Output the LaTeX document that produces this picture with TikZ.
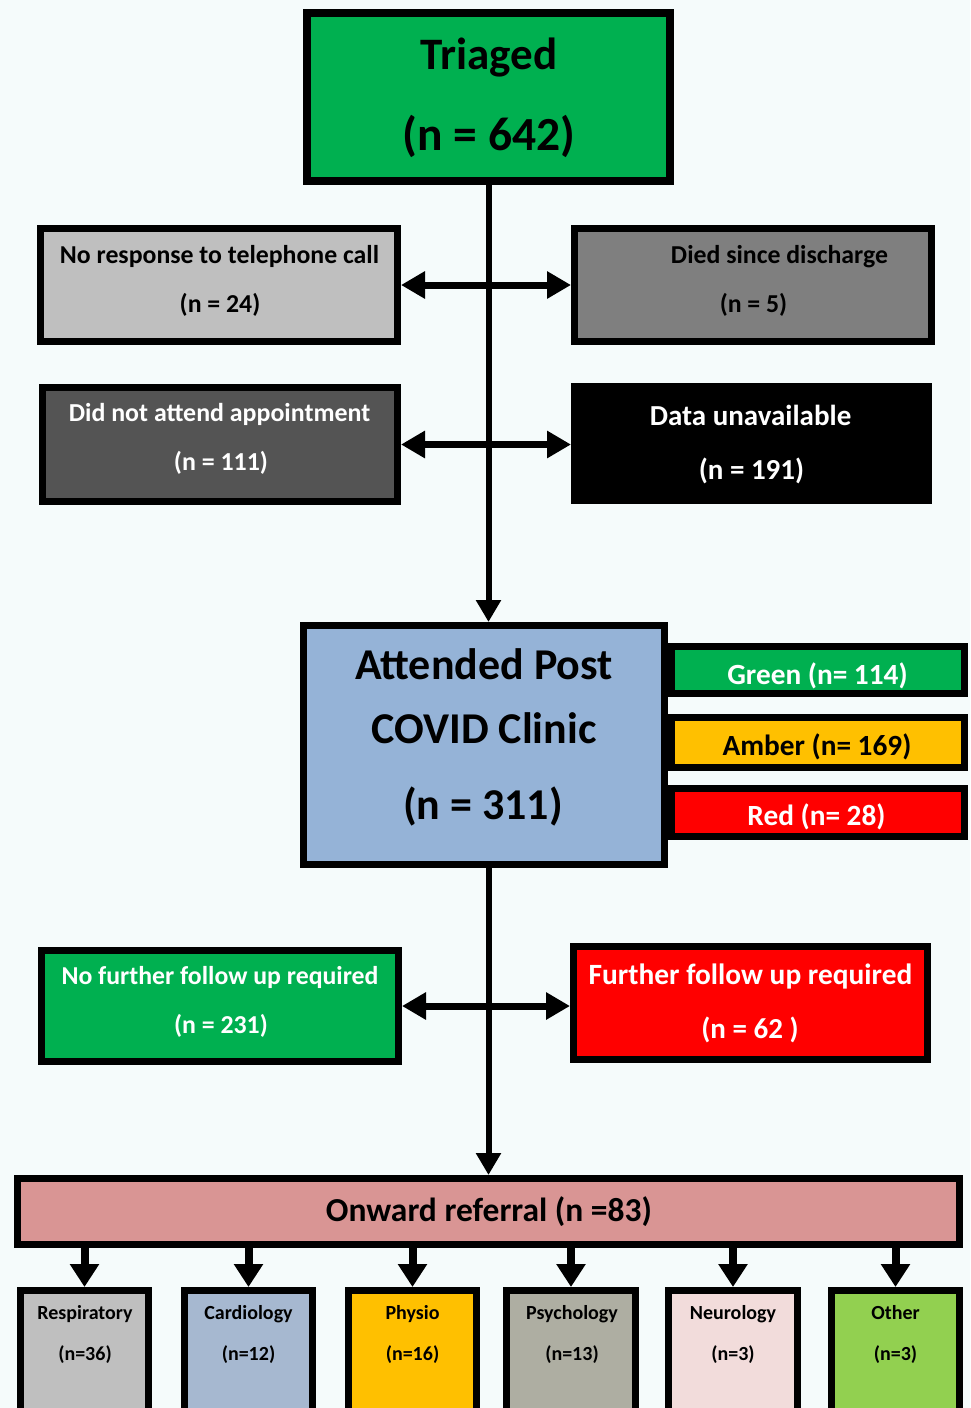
\documentclass[tikz,border=0pt]{standalone}
\usepackage{fontspec}
\setmainfont{Carlito}
\usetikzlibrary{arrows.meta}
\definecolor{bgc}{RGB}{245,251,251}
\definecolor{cgreen}{HTML}{00B050}
\definecolor{camber}{HTML}{FFC000}
\definecolor{cred}{HTML}{FF0000}
\definecolor{cltgrey}{HTML}{BFBFBF}
\definecolor{cmidgrey}{HTML}{7F7F7F}
\definecolor{cdkgrey}{HTML}{545454}
\definecolor{cblue}{HTML}{95B3D7}
\definecolor{crose}{HTML}{D99594}
\definecolor{ccardio}{HTML}{A6B8D0}
\definecolor{cpsych}{HTML}{AEAEA2}
\definecolor{cneuro}{HTML}{F2DCDB}
\definecolor{cother}{HTML}{92D050}
\newcommand{\fsz}[1]{\fontsize{#1}{#1}\selectfont}
\tikzset{
  box/.style={draw=black, line width=7pt, inner sep=0pt, outer sep=0pt},
  lbl/.style={anchor=base, inner sep=0pt, font=\bfseries},
  dbl/.style={line width=7pt, {Triangle[length=24pt,width=26pt]}-{Triangle[length=24pt,width=26pt]}, shorten <=3.5pt, shorten >=3.5pt},
  mainarrow/.style={line width=6pt, -{Triangle[length=22pt,width=24pt]}, shorten >=3.5pt},
  subarrow/.style={line width=8pt, -{Triangle[length=23pt,width=28pt]}, shorten >=3.5pt},
}
\begin{document}
\begin{tikzpicture}[x=1pt, y=-1pt]
\fill[bgc] (0,0) rectangle (970,1408);
\useasboundingbox (0,0) rectangle (970,1408);
\clip (0,0) rectangle (970,1408);

% Triaged
\node[box, line width=8pt, fill=cgreen, minimum width=363pt, minimum height=168pt] (tri) at (488.5,97) {};
\node[lbl, font=\bfseries\fsz{45}] (tri1) at (489,69.5) {Triaged};
\node[lbl, font=\bfseries\fsz{47.5}] (tri2) at (489,150) {(n = 642)};

% Row 1
\node[box, fill=cltgrey, minimum width=357pt, minimum height=113pt] (nor) at (219,285) {};
\node[lbl, font=\bfseries\fsz{25.8}] (nor1) at (219.5,263) {No response to telephone call};
\node[lbl, font=\bfseries\fsz{25.8}] (nor2) at (220,312) {(n = 24)};
\node[box, fill=cmidgrey, minimum width=357pt, minimum height=113pt] (died) at (753,285) {};
\node[lbl, font=\bfseries\fsz{25.8}] (died1) at (779.5,263) {Died since discharge};
\node[lbl, font=\bfseries\fsz{25.8}] (died2) at (753.5,312) {(n = 5)};

% Row 2
\node[box, fill=cdkgrey, minimum width=355pt, minimum height=114pt] (dna) at (220,444.5) {};
\node[lbl, text=white, font=\bfseries\fsz{25.9}] (dna1) at (219.5,421) {Did not attend appointment};
\node[lbl, text=white, font=\bfseries\fsz{25.9}] (dna2) at (221,470) {(n = 111)};
\node[box, fill=black, minimum width=354pt, minimum height=114pt] (dun) at (751.5,443.5) {};
\node[lbl, text=white, font=\bfseries\fsz{29}] (dun1) at (750.5,425) {Data unavailable};
\node[lbl, text=white, font=\bfseries\fsz{29}] (dun2) at (751.5,479) {(n = 191)};

% Attended
\node[box, fill=cblue, minimum width=361pt, minimum height=239pt] (att) at (484,745) {};
\node[lbl, font=\bfseries\fsz{44}] (att1) at (484,679) {Attended Post};
\node[lbl, font=\bfseries\fsz{44}] (att2) at (484,743) {COVID Clinic};
\node[lbl, font=\bfseries\fsz{44}] (att3) at (483,819) {(n = 311)};

% RAG bars
\node[box, fill=cgreen, minimum width=293pt, minimum height=47pt] (grn) at (818,670) {};
\node[lbl, text=white, font=\bfseries\fsz{29.3}] (grn1) at (817.5,684) {Green (n= 114)};
\node[box, fill=camber, minimum width=293pt, minimum height=50pt] (amb) at (818,742.5) {};
\node[lbl, font=\bfseries\fsz{29.3}] (amb1) at (817,755) {Amber (n= 169)};
\node[box, fill=cred, minimum width=293pt, minimum height=48pt] (red) at (818,812.5) {};
\node[lbl, text=white, font=\bfseries\fsz{29.3}] (red1) at (816.5,825) {Red (n= 28)};

% Row 3
\node[box, fill=cgreen, minimum width=357pt, minimum height=111pt] (nfu) at (220,1006) {};
\node[lbl, text=white, font=\bfseries\fsz{25.8}] (nfu1) at (220,984) {No further follow up required};
\node[lbl, text=white, font=\bfseries\fsz{25.8}] (nfu2) at (221,1033) {(n = 231)};
\node[box, fill=cred, minimum width=354pt, minimum height=113pt] (ffu) at (750.5,1003) {};
\node[lbl, text=white, font=\bfseries\fsz{29.4}] (ffu1) at (750.5,984) {Further follow up required};
\node[lbl, text=white, font=\bfseries\fsz{29}] (ffu2) at (750,1038) {(n = 62 )};

% Onward referral
\node[box, fill=crose, minimum width=942pt, minimum height=66pt] (onw) at (488.5,1211.5) {};
\node[lbl, font=\bfseries\fsz{33.5}] (onw1) at (489,1221) {Onward referral (n =83)};

% Specialty boxes
\node[box, fill=cltgrey, minimum width=128pt, minimum height=136pt] (resp) at (84.5,1358.5) {};
\node[lbl, font=\bfseries\fsz{20}] (resp1) at (85,1319.5) {Respiratory};
\node[lbl, font=\bfseries\fsz{20}] (resp2) at (85,1360) {(n=36)};
\node[box, fill=ccardio, minimum width=128pt, minimum height=136pt] (card) at (248.5,1358.5) {};
\node[lbl, font=\bfseries\fsz{20}] (card1) at (248.5,1319.5) {Cardiology};
\node[lbl, font=\bfseries\fsz{20}] (card2) at (248.5,1360) {(n=12)};
\node[box, fill=camber, minimum width=128pt, minimum height=136pt] (phys) at (412.5,1358.5) {};
\node[lbl, font=\bfseries\fsz{20}] (phys1) at (412.5,1319.5) {Physio};
\node[lbl, font=\bfseries\fsz{20}] (phys2) at (412.5,1360) {(n=16)};
\node[box, fill=cpsych, minimum width=129pt, minimum height=136pt] (psy) at (571,1358.5) {};
\node[lbl, font=\bfseries\fsz{20}] (psy1) at (572,1319.5) {Psychology};
\node[lbl, font=\bfseries\fsz{20}] (psy2) at (572,1360) {(n=13)};
\node[box, fill=cneuro, minimum width=129pt, minimum height=136pt] (neu) at (733,1358.5) {};
\node[lbl, font=\bfseries\fsz{20}] (neu1) at (733,1319.5) {Neurology};
\node[lbl, font=\bfseries\fsz{20}] (neu2) at (733,1360) {(n=3)};
\node[box, fill=cother, minimum width=128pt, minimum height=136pt] (oth) at (895.5,1358.5) {};
\node[lbl, font=\bfseries\fsz{20}] (oth1) at (895.5,1319.5) {Other};
\node[lbl, font=\bfseries\fsz{20}] (oth2) at (895.5,1360) {(n=3)};

% Connectors
\draw[mainarrow] (tri.south) -- (tri.south |- att.north);
\draw[dbl] (nor.east) -- (nor.east -| died.west);
\draw[dbl] (dna.east) -- (dna.east -| dun.west);
\draw[mainarrow] (onw.north |- att.south) -- (onw.north);
\draw[dbl] (nfu.east) -- (nfu.east -| ffu.west);
\foreach \b in {resp,card,phys,psy,neu,oth}
  \draw[subarrow] (\b.north |- onw.south) -- (\b.north);
\end{tikzpicture}
\end{document}
